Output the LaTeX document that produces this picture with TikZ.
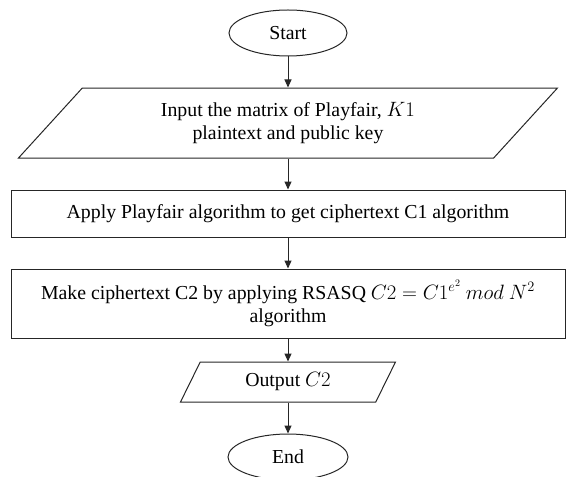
\documentclass[tikz,border=0pt]{standalone}
\usepackage{fontspec}
\setmainfont{Liberation Serif}
\usetikzlibrary{positioning,arrows.meta,shapes.geometric}

\begin{document}
\begin{tikzpicture}[
x=1pt, y=1pt,
font=\fontsize{19.8}{23}\selectfont,
node distance=31pt,
termnode/.style={ellipse, draw=black!85, line width=1pt, minimum width=118pt, minimum height=46pt, inner sep=0pt},
ionode/.style={trapezium, trapezium stretches body=true, draw=black!85, line width=1pt, align=center, inner sep=0pt},
procnode/.style={rectangle, draw=black!85, line width=1pt, align=center, minimum width=554pt, inner sep=0pt},
arrowline/.style={-{Triangle[length=8pt, width=7pt]}, draw=black!85, line width=1pt}
]
    \useasboundingbox (0,0) rectangle (566,477);
    %Nodes
    \node[termnode]
        (start)   at (288,444)         {Start};
    \node[ionode, trapezium left angle=33, trapezium right angle=147, minimum width=539pt, minimum height=70pt]
        (input)   [below=of start]     {Input the matrix of Playfair, $K1$\\plaintext and public key};
    \node[procnode, minimum height=47pt]
        (apply)   [below=of input]     {Apply Playfair algorithm to get ciphertext C1 algorithm};
    \node[procnode, minimum height=69pt]
        (rsasq)   [below=of apply]     {Make ciphertext C2 by applying RSASQ $C2 = C1^{e^{2}}\ mod\ N^{2}$\\algorithm};
    \node[ionode, trapezium left angle=43, trapezium right angle=137, minimum width=215pt, minimum height=40pt]
        (output)  [below=23pt of rsasq] {Output $C2$};
    \node[termnode, minimum width=120pt]
        (finish)  [below=of output]    {End};

    %Lines
    \draw[arrowline] (start.south) -- (input.north);
    \draw[arrowline] (input.south) -- (apply.north);
    \draw[arrowline] (apply.south) -- (rsasq.north);
    \draw[arrowline] (rsasq.south) -- (output.north);
    \draw[arrowline] (output.south) -- (finish.north);
\end{tikzpicture}
\end{document}
